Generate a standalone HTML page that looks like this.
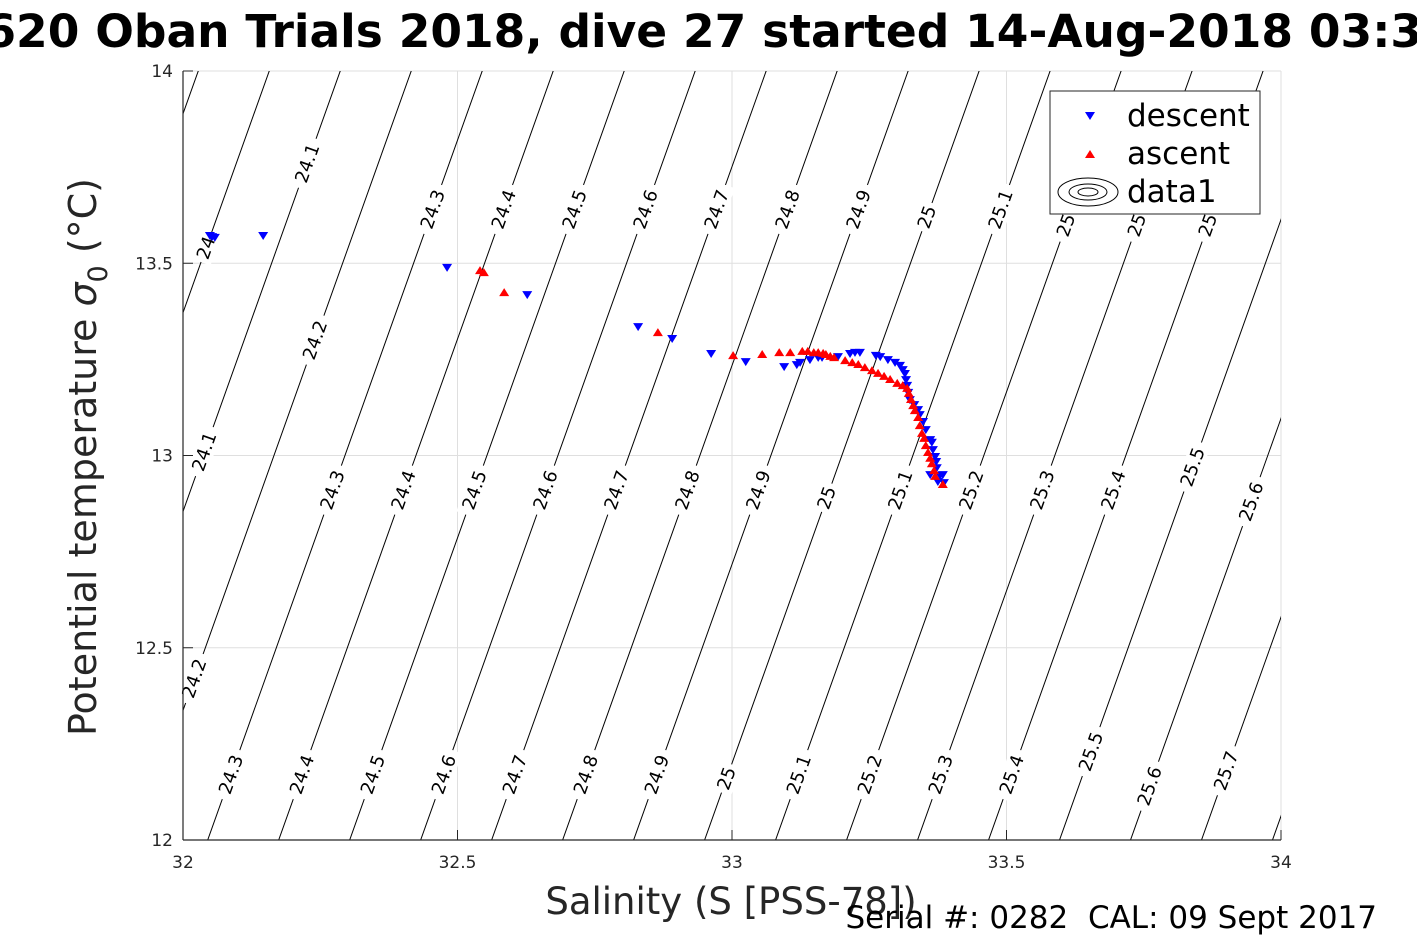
<!DOCTYPE html>
<html><head><meta charset="utf-8"><style>
body{margin:0;background:#fff}
svg text{font-family:"DejaVu Sans","Liberation Sans",sans-serif}
</style></head><body>
<svg id="chart" width="1417" height="945" xmlns="http://www.w3.org/2000/svg">
<defs><clipPath id="clip"><rect x="183" y="71" width="1098" height="769"/></clipPath></defs>
<rect width="1417" height="945" fill="#fff"/>
<text x="684" y="47" font-size="45.5" font-weight="bold" text-anchor="middle">SG620 Oban Trials 2018, dive 27 started 14-Aug-2018 03:35</text>
<g id="grid"></g>
<g id="contours" clip-path="url(#clip)"></g>
<g id="labels"></g>
<g id="points"></g>
<g id="axes"></g>
<text x="731" y="914" font-size="37" fill="#262626" text-anchor="middle">Salinity (S [PSS-78])</text>
<text transform="translate(96,457) rotate(-90)" font-size="38" fill="#262626" text-anchor="middle">Potential temperature <tspan font-style="italic">σ</tspan><tspan font-size="27" dy="11">0</tspan><tspan dy="-11"> (°C)</tspan></text>
<text x="1377" y="928" font-size="31" text-anchor="end" style="white-space:pre" xml:space="preserve">Serial #: 0282  CAL: 09 Sept 2017</text>
<g>
<rect x="1050" y="91" width="210" height="123" fill="#fff" stroke="#262626" stroke-width="1"/>
<polygon points="1085,112 1095,112 1090,120" fill="#00f"/>
<text x="1127" y="126" font-size="31">descent</text>
<polygon points="1085,158 1095,158 1090,150" fill="#f00"/>
<text x="1127" y="164" font-size="31">ascent</text>
<g fill="none" stroke="#000" stroke-width="1">
<ellipse cx="1088" cy="192" rx="30" ry="14"/><ellipse cx="1088" cy="192" rx="19" ry="8"/><ellipse cx="1088" cy="192" rx="10" ry="4"/></g>
<text x="1127" y="202" font-size="31">data1</text>
</g>
</svg>
<script>
const xTicks=[32,32.5,33,33.5,34];
const yTicks=[12,12.5,13,13.5,14];
const sigmaLevels=[23.8,23.9,24,24.1,24.2,24.3,24.4,24.5,24.6,24.7,24.8,24.9,25,25.1,25.2,25.3,25.4,25.5,25.6,25.7,25.8,25.9];
const labelSigma=[24,24.1,24.3,24.4,24.5,24.6,24.7,24.8,24.9,25,25.1,25.2,25.3,25.4,
 24.2,24.1,24.3,24.4,24.5,24.6,24.7,24.8,24.9,25,25.1,25.2,25.3,25.4,25.5,25.6,
 24.2,24.3,24.4,24.5,24.6,24.7,24.8,24.9,25,25.1,25.2,25.3,25.4,25.5,25.6,25.7];
const labelTemp=[13.54,13.76,13.64,13.64,13.64,13.64,13.64,13.64,13.64,13.62,13.64,13.62,13.62,13.62,
 13.30,13.01,12.91,12.91,12.91,12.91,12.91,12.91,12.91,12.89,12.91,12.91,12.91,12.91,12.97,12.88,
 12.42,12.17,12.17,12.17,12.17,12.17,12.17,12.17,12.16,12.17,12.17,12.17,12.17,12.23,12.14,12.18];
const descS=[32.053,32.058,32.049,32.146,32.481,32.627,32.829,32.891,32.962,33.025,33.095,33.118,33.124,33.142,33.157,33.164,33.193,33.215,33.224,33.233,33.262,33.270,33.284,33.297,33.306,33.311,33.315,33.317,33.319,33.321,33.324,33.332,33.339,33.342,33.348,33.353,33.361,33.364,33.366,33.370,33.372,33.373,33.361,33.379,33.384,33.375,33.386];
const descT=[13.568,13.566,13.571,13.571,13.488,13.417,13.334,13.303,13.264,13.243,13.230,13.235,13.241,13.248,13.254,13.254,13.256,13.264,13.267,13.267,13.259,13.256,13.248,13.241,13.233,13.222,13.212,13.196,13.181,13.163,13.144,13.131,13.118,13.105,13.087,13.066,13.040,13.033,13.014,12.996,12.983,12.967,12.949,12.947,12.949,12.931,12.928];
const ascS=[32.541,32.548,32.585,32.865,33.002,33.055,33.086,33.106,33.128,33.138,33.149,33.157,33.166,33.171,33.179,33.186,33.206,33.219,33.230,33.242,33.255,33.266,33.277,33.288,33.301,33.311,33.319,33.322,33.326,33.330,33.333,33.339,33.342,33.346,33.350,33.353,33.357,33.361,33.364,33.368,33.370,33.384];
const ascT=[13.482,13.477,13.425,13.321,13.261,13.264,13.269,13.269,13.272,13.272,13.269,13.269,13.267,13.264,13.259,13.256,13.248,13.243,13.238,13.230,13.222,13.215,13.207,13.199,13.189,13.183,13.176,13.163,13.147,13.131,13.118,13.100,13.079,13.059,13.046,13.027,13.009,12.994,12.980,12.962,12.947,12.926];

const NS='http://www.w3.org/2000/svg';
const X0=183,X1=1281,Y0=840,Y1=71;
const sx=s=>X0+(s-32)/2*(X1-X0);
const ty=t=>Y0-(t-12)/2*(Y0-Y1);
const isoS=(sig,t)=>32.295+(sig-24.3)*1.293+(t-13)*0.25;
function mk(tag,attrs,parent){const e=document.createElementNS(NS,tag);for(const k in attrs)e.setAttribute(k,attrs[k]);parent.appendChild(e);return e;}
const grid=document.getElementById('grid'),axes=document.getElementById('axes');
xTicks.forEach(v=>{
 const g=mk('line',{x1:sx(v),x2:sx(v),y1:Y1,y2:Y0,stroke:'#dfdfdf','stroke-width':1},grid);
 
 
 const tk=mk('line',{x1:sx(v),x2:sx(v),y1:Y0,y2:Y0-10,stroke:'#262626'},axes);
 
 
 const t=mk('text',{x:sx(v),y:868,'font-size':17,'text-anchor':'middle',fill:'#262626'},axes);
 t.textContent=String(v);
 
 
});
yTicks.forEach(v=>{
 const g=mk('line',{x1:X0,x2:X1,y1:ty(v),y2:ty(v),stroke:'#dfdfdf','stroke-width':1},grid);
 
 
 const tk=mk('line',{x1:X0,x2:X0+10,y1:ty(v),y2:ty(v),stroke:'#262626'},axes);
 
 
 const t=mk('text',{x:173,y:ty(v)+6,'font-size':17,'text-anchor':'end',fill:'#262626'},axes);
 t.textContent=String(v);
 
 
});
const b1=mk('line',{x1:X0,x2:X0,y1:Y1,y2:Y0,stroke:'#262626','stroke-width':1.2},axes);


const b2=mk('line',{x1:X0,x2:X1,y1:Y0,y2:Y0,stroke:'#262626','stroke-width':1.2},axes);


const cont=document.getElementById('contours');
sigmaLevels.forEach(sig=>{
 const l=mk('line',{x1:sx(isoS(sig,11.8)),y1:ty(11.8),x2:sx(isoS(sig,14.2)),y2:ty(14.2),stroke:'#000','stroke-width':1},cont);
 
 
});
const lab=document.getElementById('labels');
const ang=Math.atan2(ty(13)-ty(14),sx(isoS(24.3,14))-sx(isoS(24.3,13)))*180/Math.PI;
labelSigma.forEach((sig,i)=>{
 const x=sx(isoS(sig,labelTemp[i])),y=ty(labelTemp[i]);
 const g=mk('g',{transform:`translate(${x},${y}) rotate(${-ang})`},lab);
 
 
 const txt=String(sig);
 const w=txt.length*11+8;
 mk('rect',{x:-w/2,y:-10,width:w,height:20,fill:'#fff'},g);
 const t=mk('text',{x:0,y:6,'font-size':18,'text-anchor':'middle'},g);
 t.textContent=txt;
});
const pts=document.getElementById('points');
descS.forEach((s,i)=>{
 const x=sx(s),y=ty(descT[i]);
 const p=mk('polygon',{points:`${x-5},${y-4} ${x+5},${y-4} ${x},${y+4}`,fill:'#00f'},pts);
 
 
});
ascS.forEach((s,i)=>{
 const x=sx(s),y=ty(ascT[i]);
 const p=mk('polygon',{points:`${x-5},${y+4} ${x+5},${y+4} ${x},${y-4}`,fill:'#f00'},pts);
 
 
});
</script>
</body></html>
